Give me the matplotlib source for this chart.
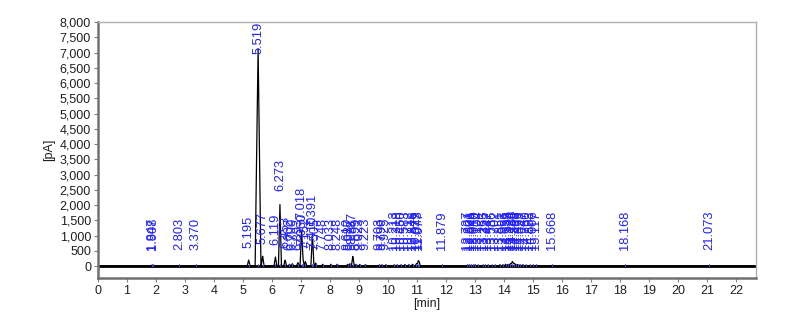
import numpy as np
import matplotlib
matplotlib.use("Agg")
import matplotlib.pyplot as plt
from matplotlib.ticker import FuncFormatter, MultipleLocator

plt.rcParams['font.family'] = ['Liberation Sans', 'DejaVu Sans']

# Peak table: retention time [min] and height [pA]
peak_times = [1.847, 1.908, 2.803, 3.370, 5.195, 5.519, 5.677, 6.119, 6.273,
              6.453, 6.602, 6.700, 6.893, 7.018, 7.060, 7.152, 7.391, 7.410,
              7.505, 7.748, 8.033, 8.248, 8.610, 8.687, 8.787, 8.899, 9.023,
              9.223, 9.703, 9.790, 9.925, 10.213, 10.318, 10.450, 10.583,
              10.712, 10.848, 10.979, 11.043, 11.077, 11.879,
              12.737, 12.801, 12.866, 12.944, 13.010, 13.104, 13.263, 13.355,
              13.447, 13.586, 13.702, 13.851, 13.963, 14.055, 14.139, 14.224,
              14.288, 14.343, 14.398, 14.466, 14.553, 14.647, 14.760, 14.893,
              15.006, 15.117, 15.668, 18.168, 21.073]
peak_heights = [30, 30, 20, 20, 200, 7250, 330, 300, 2050,
                200, 60, 80, 120, 1150, 300, 150, 900, 200,
                100, 60, 60, 60, 60, 80, 320, 60, 50,
                50, 40, 40, 40, 40, 40, 40, 50,
                40, 60, 80, 150, 100, 30,
                30, 30, 30, 30, 40, 30, 30, 30,
                30, 30, 30, 40, 40, 60, 60, 80,
                150, 90, 60, 50, 40, 40, 30, 30,
                30, 30, 30, 20, 20]
peak_labels = ["%.3f" % t for t in peak_times]

# Build the detector trace from the peak table (narrow triangular peaks)
t = np.linspace(0, 22.7, 6000)
signal = np.zeros_like(t)
for tp, h in zip(peak_times, peak_heights):
    w = 0.1 if h > 5000 else 0.05
    signal += np.clip(h * (1 - np.abs(t - tp) / w), 0, None)

fig = plt.figure(figsize=(7.95, 3.2), dpi=100)
ax = fig.add_axes([98 / 795, 1 - 278 / 320, (756 - 98) / 795, (278 - 22) / 320])

ax.plot(t, signal, color='black', lw=0.9)
ax.axhline(0, color='black', lw=2.0, zorder=1)

# small peak markers on the baseline and rotated retention-time labels
for tp, h, lab in zip(peak_times, peak_heights, peak_labels):
    ax.plot([tp, tp], [0, 60], color='#5050ff', lw=0.6)
    y = min(max(h + 400, 520), 6950)
    ax.text(tp, y, lab, rotation=90, ha='center', va='bottom',
            color='#2020ff', fontsize=9.3, clip_on=False)

ax.set_xlim(0, 22.69)
ax.set_ylim(-390, 8000)
ax.xaxis.set_major_locator(MultipleLocator(1))
ax.yaxis.set_major_locator(MultipleLocator(500))
ax.yaxis.set_major_formatter(FuncFormatter(lambda v, p: f"{int(v):,}"))

ax.tick_params(axis='both', direction='out', length=3, width=0.8,
               color='#808080', labelsize=9, labelcolor='#202020', pad=2)

for side in ['left', 'bottom']:
    ax.spines[side].set_color('#707070')
    ax.spines[side].set_linewidth(1.8)
for side in ['top', 'right']:
    ax.spines[side].set_color('#b0b0b0')
    ax.spines[side].set_linewidth(1.0)

ax.set_xlabel('[min]', fontsize=9, color='#202020', labelpad=1)
ax.set_ylabel('[pA]', fontsize=9, color='#202020', labelpad=3)

fig.savefig('out.png', dpi=100)
